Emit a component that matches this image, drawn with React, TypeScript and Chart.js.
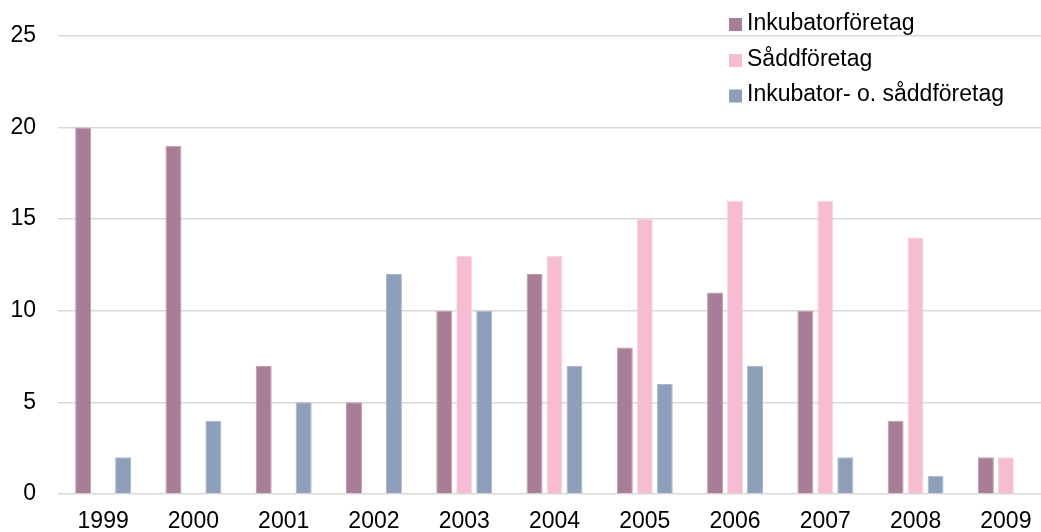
import React, { useEffect, useRef } from "react";
import { Chart, registerables } from "chart.js";

Chart.register(...registerables);

const years = ["1999", "2000", "2001", "2002", "2003", "2004", "2005", "2006", "2007", "2008", "2009"];
const inkubator = [20, 19, 7, 5, 10, 12, 8, 11, 10, 4, 2];
const sadd = [null, null, null, null, 13, 13, 15, 16, 16, 14, 2];
const kombinerad = [2, 4, 5, 12, 10, 7, 6, 7, 2, 1, null];
const seriesNames = ["Inkubatorföretag", "Såddföretag", "Inkubator- o. såddföretag"];
const yTicks = [0, 5, 10, 15, 20, 25];

const FONT = "'Liberation Sans', Arial, sans-serif";
const FS = 23;

const legendPlugin = {
  id: "customLegend",
  afterDraw(chart: any) {
    const ctx = chart.ctx;
    ctx.save();
    ctx.font = `${FS}px ${FONT}`;
    ctx.textBaseline = "middle";
    ctx.textAlign = "left";
    const x = 729;
    const rows = [24.5, 60.5, 96];
    chart.data.datasets.forEach((ds: any, i: number) => {
      ctx.fillStyle = ds.backgroundColor;
      ctx.fillRect(x, rows[i] - 6.5, 13, 13);
      ctx.fillStyle = "#000";
      ctx.fillText(ds.label, x + 18, rows[i] - 1);
    });
    ctx.restore();
  },
};

export default function App() {
  const ref = useRef<HTMLCanvasElement>(null);
  useEffect(() => {
    if (!ref.current) return;
    const chart = new Chart(ref.current, {
      type: "bar",
      data: {
        labels: years,
        datasets: [
          { label: seriesNames[0], data: inkubator, backgroundColor: "#A77E95", borderColor: "#C09AAE", borderWidth: 1 },
          { label: seriesNames[1], data: sadd as any, backgroundColor: "#F6BCD1", borderColor: "#FBD3E1", borderWidth: 1 },
          { label: seriesNames[2], data: kombinerad as any, backgroundColor: "#8E9FB9", borderColor: "#A9B6CB", borderWidth: 1 },
        ],
      },
      options: {
        responsive: false,
        devicePixelRatio: 1,
        animation: false,
        layout: { padding: { top: 32, right: 0, left: 0, bottom: 0 } },
        datasets: { bar: { categoryPercentage: 0.664, barPercentage: 0.8 } },
        plugins: { legend: { display: false }, tooltip: { enabled: false }, title: { display: false } },
        scales: {
          x: {
            grid: { display: false, drawTicks: false },
            border: { display: false },
            ticks: { color: "#000", font: { family: FONT, size: FS }, padding: 14, maxRotation: 0 },
            afterFit: (s: any) => { s.height = 38; },
          },
          y: {
            min: 0,
            max: 25,
            afterBuildTicks: (s: any) => { s.ticks = yTicks.map((v) => ({ value: v })); },
            grid: { color: "#D9D9D9", lineWidth: 1.5, drawTicks: false },
            border: { display: false },
            ticks: { color: "#000", font: { family: FONT, size: FS }, padding: 22 },
            afterFit: (s: any) => { s.width = 58; },
          },
        },
      },
      plugins: [legendPlugin],
    });
    return () => chart.destroy();
  }, []);
  return (
    <div style={{ position: "fixed", left: 0, top: 0, width: 1041, height: 532, overflow: "hidden", background: "#fff" }}>
      <canvas ref={ref} width={1051} height={532} style={{ display: "block" }} />
    </div>
  );
}
